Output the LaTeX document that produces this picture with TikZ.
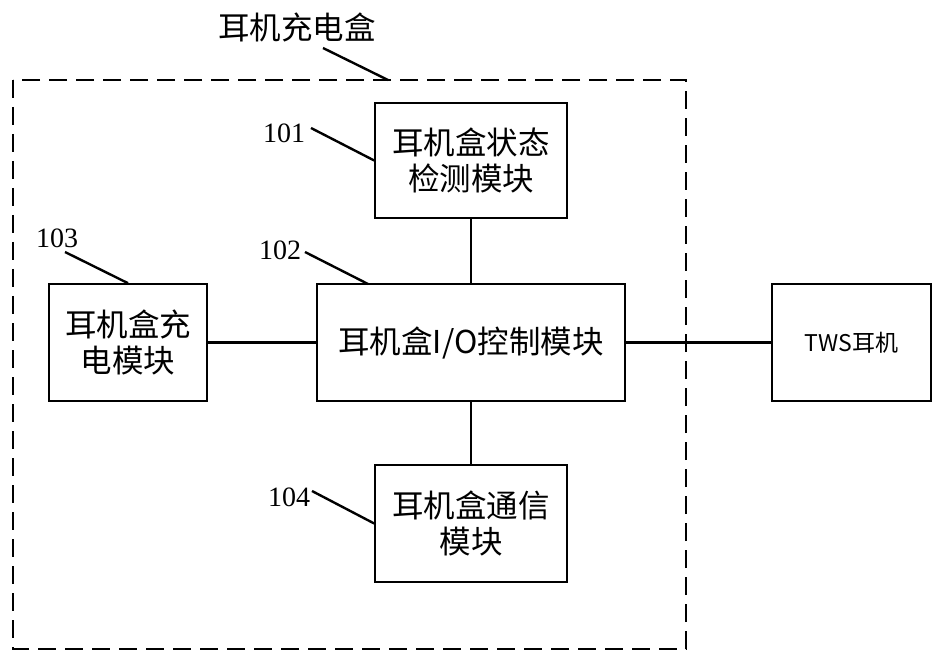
\documentclass[tikz,border=0pt]{standalone}
\usepackage{fontspec}
\setmainfont{Liberation Serif}
\newfontfamily\cjk{Noto Sans CJK SC}
\begin{document}
\begin{tikzpicture}[x=1pt,y=-1pt,
  box/.style={draw,line width=1.6pt,inner sep=0pt,align=center,
    font=\cjk\fontsize{31.5}{36}\selectfont},
  lbl/.style={inner sep=0pt,font=\fontsize{28}{28}\selectfont},
  conn/.style={line width=2.4pt},
  leader/.style={line width=2.4pt}]
\useasboundingbox (0,0) rectangle (943,663);
% outer dashed box
\draw[line width=1.7pt,dash pattern=on 18pt off 9pt] (13,80) rectangle (686,649);
\coordinate (outerTop) at (388,80);
% boxes
\node[box,minimum width=192pt,minimum height=115pt] (b101) at (471,160.5) {耳机盒状态\\检测模块};
\node[box,minimum width=308pt,minimum height=117pt] (b102) at (471,342.5) {耳机盒I/O控制模块};
\node[box,minimum width=158pt,minimum height=117pt] (b103) at (128,342.5) {耳机盒充\\电模块};
\node[box,minimum width=192pt,minimum height=117pt] (b104) at (471,523.5) {耳机盒通信\\模块};
\node[box,minimum width=159pt,minimum height=117pt,font=\cjk\fontsize{23}{30}\selectfont] (tws) at (851.5,342.5) {TWS耳机};
% labels
\node[inner sep=0pt,font=\cjk\fontsize{31.5}{31.5}\selectfont] (title) at (297,27) {耳机充电盒};
\node[lbl] (l101) at (284,133) {101};
\node[lbl] (l102) at (280,250) {102};
\node[lbl] (l103) at (57,238) {103};
\node[lbl] (l104) at (289,497) {104};
% leader start points
\coordinate (sTitle) at (323,48);
\coordinate (s101) at (311,128);
\coordinate (s102) at (305,252);
\coordinate (s103) at (65,252);
\coordinate (s104) at (312,491);
\coordinate (e102) at (368,284);
% leaders
\draw[leader] (sTitle) -- (outerTop);
\draw[leader] (s101) -- (b101.west);
\draw[leader] (s102) -- (e102);
\draw[leader] (s103) -- (b103.north);
\draw[leader] (s104) -- (b104.west);
% connectors
\draw[conn] (b101.south) -- (b102.north);
\draw[conn] (b103.east) -- (b102.west);
\draw[conn] (b102.east) -- (tws.west);
\draw[conn] (b102.south) -- (b104.north);
\end{tikzpicture}
\end{document}
